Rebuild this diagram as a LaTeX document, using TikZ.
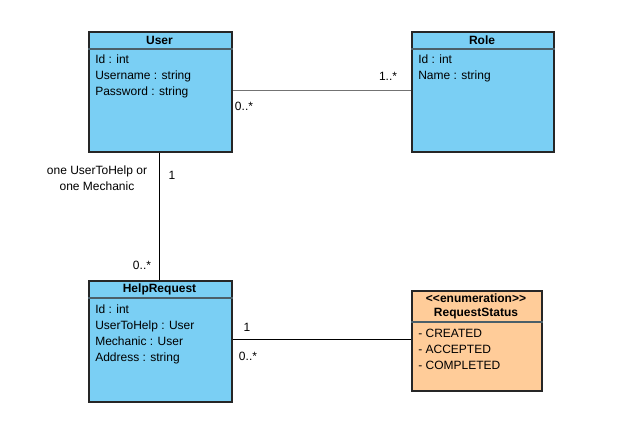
\documentclass[tikz,border=0pt]{standalone}
\usepackage{fontspec}
\setmainfont{Liberation Sans}
\usetikzlibrary{positioning}

\definecolor{classblue}{RGB}{122,207,244}
\definecolor{enumorange}{RGB}{255,204,153}
\definecolor{sepgray}{RGB}{75,95,105}

\tikzset{
  classbox/.style={draw=black!85, line width=1.5pt, fill=classblue, anchor=north west, inner sep=0pt},
  enumbox/.style={classbox, fill=enumorange},
  title/.style={font=\fontsize{9}{10.5}\selectfont\bfseries, align=center},
  attr/.style={font=\fontsize{9}{12}\selectfont, align=left, anchor=north west, inner sep=0pt},
  mult/.style={font=\fontsize{9}{11}\selectfont, inner sep=0pt},
  sep/.style={draw=sepgray, line width=1.5pt},
  assoc/.style={draw=black, line width=0.75pt}
}

\begin{document}
\begin{tikzpicture}[x=0.75pt, y=-0.75pt]
  \useasboundingbox (0,0) rectangle (638,448);
  % classes
  \node[classbox, minimum width=107.25pt, minimum height=90pt] (user) at (88,31) {};
  \node[classbox, minimum width=106.5pt, minimum height=90pt] (role) at (411,31) {};
  \node[classbox, minimum width=107.25pt, minimum height=90.75pt] (helpreq) at (88,280) {};
  \node[enumbox, minimum width=97.5pt, minimum height=75pt] (status) at (411,290) {};
  % compartment lines
  \draw[sep] ([yshift=-13.5pt]user.north west) -- ([yshift=-13.5pt]user.north east);
  \draw[sep] ([yshift=-13.5pt]role.north west) -- ([yshift=-13.5pt]role.north east);
  \draw[sep] ([yshift=-13.5pt]helpreq.north west) -- ([yshift=-13.5pt]helpreq.north east);
  \draw[sep] ([yshift=-24pt]status.north west) -- ([yshift=-24pt]status.north east);
  % titles
  \node[title] (user-title) at (159.5,40) {User};
  \node[title] (role-title) at (482,40) {Role};
  \node[title] (helpreq-title) at (159.5,289) {HelpRequest};
  \node[title] (status-title) at (476,306) {<{}<enumeration>{}>\\RequestStatus};
  % attributes
  \node[attr] (user-attr) at (95,55) {Id : int\\Username : string\\Password : string};
  \node[attr] (role-attr) at (418,55) {Id : int\\Name : string};
  \node[attr] (helpreq-attr) at (95,305) {Id : int\\UserToHelp : User\\Mechanic : User\\Address : string};
  \node[attr] (status-attr) at (418,329) {- CREATED\\- ACCEPTED\\- COMPLETED};
  % associations
  \draw[assoc, draw=black!55] (user.east |- 0,91) -- (role.west |- 0,91);
  \draw[assoc] (user.south -| 159,0) -- (helpreq.north -| 159,0);
  \draw[assoc] (helpreq.east |- 0,340) -- (status.west |- 0,340);
  % multiplicities
  \node[mult] (m-user-role) at (244,106) {0..*};
  \node[mult] (m-role-user) at (388,76) {1..*};
  \node[mult] (m-user-help) at (172,175) {1};
  \node[mult] (m-help-user) at (142,265) {0..*};
  \node[mult, font=\fontsize{9}{12}\selectfont, align=center] (help-note) at (97,178) {one UserToHelp or\\one Mechanic};
  \node[mult] (m-help-status) at (247,327) {1};
  \node[mult] (m-status-help) at (248,356) {0..*};
\end{tikzpicture}
\end{document}
